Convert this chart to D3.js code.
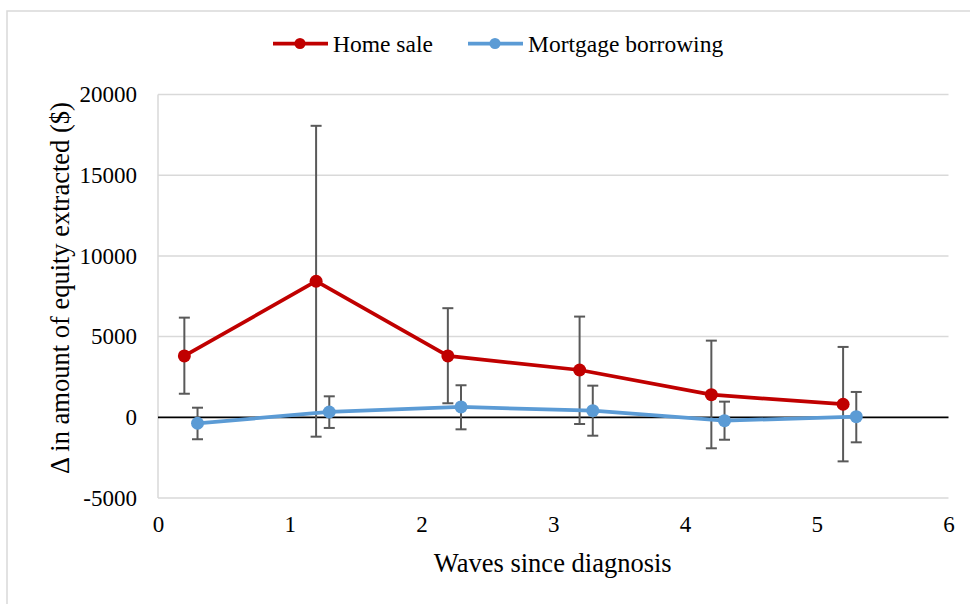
<!DOCTYPE html>
<html>
<head>
<meta charset="utf-8">
<script src="https://cdn.jsdelivr.net/npm/d3@7"></script>
<style>
  html, body { margin: 0; padding: 0; background: #fff; }
  svg { display: block; }
  text { font-family: "Liberation Serif", "Times New Roman", serif; fill: #000; }
</style>
</head>
<body>
<svg id="chart" width="970" height="604"></svg>
<script>
// ---- Data ----
const seriesNames = ["Home sale", "Mortgage borrowing"];
const homeSaleX = [0.2, 1.2, 2.2, 3.2, 4.2, 5.2];
const homeSale = [3800, 8430, 3800, 2930, 1400, 810];
const homeSaleLow = [1460, -1200, 870, -415, -1920, -2730];
const homeSaleHigh = [6175, 18060, 6760, 6240, 4750, 4360];
const mortgageX = [0.3, 1.3, 2.3, 3.3, 4.3, 5.3];
const mortgage = [-370, 330, 640, 410, -210, 40];
const mortgageLow = [-1360, -660, -745, -1140, -1390, -1550];
const mortgageHigh = [595, 1300, 1985, 1960, 970, 1570];
const xTicks = [0, 1, 2, 3, 4, 5, 6];
const yTicks = [-5000, 0, 5000, 10000, 15000, 20000];
const xTitle = "Waves since diagnosis";
const yTitle = "\u0394 in amount of equity extracted ($)";

// ---- Layout ----
const svg = d3.select("#chart");
const x = d3.scaleLinear().domain([0, 6]).range([158, 948.5]);
const y = d3.scaleLinear().domain([-5000, 20000]).range([498, 94.5]);
const fmt = d => String(d);

// Outer chart border
svg.append("rect").attr("x", 7).attr("y", 11).attr("width", 1000).attr("height", 1000)
  .attr("fill", "none").attr("stroke", "#d9d9d9").attr("stroke-width", 1.5);

// Gridlines
svg.append("g").selectAll("line").data(yTicks.filter(d => d !== 0)).join("line")
  .attr("x1", x(0)).attr("x2", x(6))
  .attr("y1", d => y(d)).attr("y2", d => y(d))
  .attr("stroke", "#d9d9d9").attr("stroke-width", 1.5);

// Left axis line
svg.append("line").attr("x1", x(0)).attr("x2", x(0)).attr("y1", y(20000)).attr("y2", y(-5000))
  .attr("stroke", "#d9d9d9").attr("stroke-width", 1.5);

// Y axis using d3.axisLeft (labels only)
const yAxis = svg.append("g").attr("transform", `translate(${x(0)},0)`)
  .call(d3.axisLeft(y).tickValues(yTicks).tickSize(0).tickPadding(21).tickFormat(fmt));
yAxis.select(".domain").remove();
yAxis.selectAll("text").style("font-family", '"Liberation Serif", serif').style("font-size", "23px").attr("fill", "#000");

// X axis labels at the bottom
const xAxis = svg.append("g").attr("transform", `translate(0,${y(-5000)})`)
  .call(d3.axisBottom(x).tickValues(xTicks).tickSize(0).tickPadding(18).tickFormat(fmt));
xAxis.select(".domain").remove();
xAxis.selectAll("text").style("font-family", '"Liberation Serif", serif').style("font-size", "23px").attr("fill", "#000");

// Zero line
svg.append("line").attr("x1", x(0)).attr("x2", x(6)).attr("y1", y(0)).attr("y2", y(0))
  .attr("stroke", "#000").attr("stroke-width", 1.75);

// Axis titles
svg.append("text").attr("x", (x(0) + x(6)) / 2 - 0.5).attr("y", 563)
  .attr("text-anchor", "middle").attr("dominant-baseline", "central")
  .style("font-size", "26.5px").text(xTitle);
svg.append("text").attr("transform", "translate(60,288) rotate(-90)")
  .attr("text-anchor", "middle").attr("dominant-baseline", "central")
  .style("font-size", "26.5px").text(yTitle);

// Series
const series = [
  { name: seriesNames[0], xs: homeSaleX, v: homeSale, lo: homeSaleLow, hi: homeSaleHigh, color: "#c00000" },
  { name: seriesNames[1], xs: mortgageX, v: mortgage, lo: mortgageLow, hi: mortgageHigh, color: "#5b9bd5" }
];

const capW = 5.5;
const ebG = svg.append("g");
series.forEach(s => {
  s.v.forEach((v, i) => {
    const cx = x(s.xs[i]);
    ebG.append("line").attr("x1", cx).attr("x2", cx).attr("y1", y(s.lo[i])).attr("y2", y(s.hi[i]))
      .attr("stroke", "#595959").attr("stroke-width", 2);
    [s.lo[i], s.hi[i]].forEach(e => {
      ebG.append("line").attr("x1", cx - capW).attr("x2", cx + capW).attr("y1", y(e)).attr("y2", y(e))
        .attr("stroke", "#595959").attr("stroke-width", 2);
    });
  });
});

const line = d3.line().x(d => x(d[0])).y(d => y(d[1]));
series.forEach(s => {
  const pts = s.v.map((v, i) => [s.xs[i], v]);
  svg.append("path").attr("d", line(pts)).attr("fill", "none")
    .attr("stroke", s.color).attr("stroke-width", 3.75).attr("stroke-linejoin", "round");
});
series.forEach(s => {
  svg.append("g").selectAll("circle").data(s.v.map((v, i) => [s.xs[i], v])).join("circle")
    .attr("cx", d => x(d[0])).attr("cy", d => y(d[1])).attr("r", 6.5).attr("fill", s.color);
});

// Legend
const legendItems = [
  { name: seriesNames[0], color: series[0].color, x0: 273 },
  { name: seriesNames[1], color: series[1].color, x0: 468 }
];
const lg = svg.append("g");
legendItems.forEach(it => {
  lg.append("line").attr("x1", it.x0).attr("x2", it.x0 + 55).attr("y1", 43.5).attr("y2", 43.5)
    .attr("stroke", it.color).attr("stroke-width", 3.75);
  lg.append("circle").attr("cx", it.x0 + 27).attr("cy", 43.5).attr("r", 5.5).attr("fill", it.color);
  lg.append("text").attr("x", it.x0 + 60).attr("y", 43.5).attr("dominant-baseline", "central")
    .style("font-size", "23.5px").text(it.name);
});
</script>
</body>
</html>
